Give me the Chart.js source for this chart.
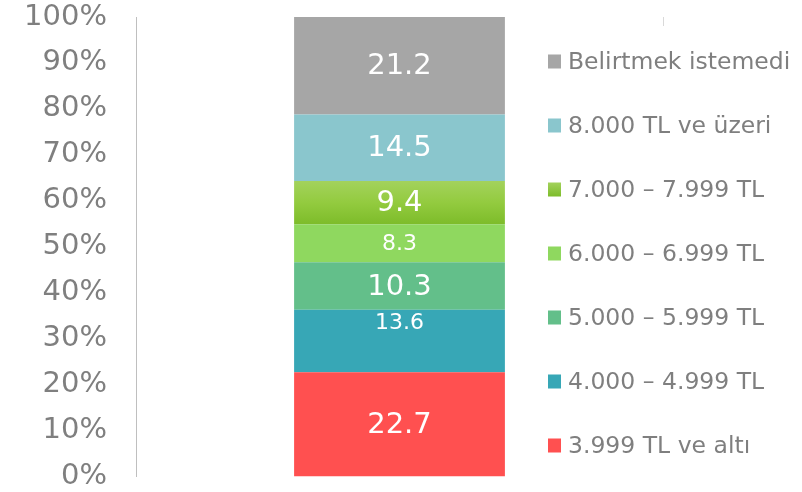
<!DOCTYPE html>
<html>
<head>
<meta charset="utf-8">
<script src="https://cdn.jsdelivr.net/npm/chart.js"></script>
<style>
  html, body { margin: 0; padding: 0; background: #fff; }
  #wrap { width: 802px; height: 492px; position: relative; }
</style>
</head>
<body>
<div id="wrap"><canvas id="c"></canvas></div>
<script>
// ---- data ----
const categories = ["Gelir"];
const seriesLabels = [
  "3.999 TL ve altı",
  "4.000 – 4.999 TL",
  "5.000 – 5.999 TL",
  "6.000 – 6.999 TL",
  "7.000 – 7.999 TL",
  "8.000 TL ve üzeri",
  "Belirtmek istemedi"
];
const seriesValues = [22.7, 13.6, 10.3, 8.3, 9.4, 14.5, 21.2];
const yTickValues = [0, 10, 20, 30, 40, 50, 60, 70, 80, 90, 100];

// ---- styles ----
const seriesColors = ["#FF5050", "#37A7B6", "#63BF8A", "#8FD85F", "#8CC63F", "#8AC6CD", "#A6A6A6"];
const labelSizes = [29, 22, 29, 22, 29, 29, 29];
const labelModes = ["center", "top", "center", "center", "center", "center", "center"];
const FONT = "'DejaVu Sans', Verdana, sans-serif";
const GREY = "#7F7F7F";

function gradientFor(index) {
  return function (ctx) {
    const chart = ctx.chart;
    const y = chart.scales && chart.scales.y;
    if (!chart.chartArea || !y) return seriesColors[index];
    let base = 0;
    for (let i = 0; i < index; i++) base += seriesValues[i];
    const top = base + seriesValues[index];
    const y0 = y.getPixelForValue(top), y1 = y.getPixelForValue(base);
    const g = chart.ctx.createLinearGradient(0, y0, 0, y1);
    g.addColorStop(0, "#A3D25C");
    g.addColorStop(0.5, "#93CB3F");
    g.addColorStop(1, "#7DBC2A");
    return g;
  };
}

const datasets = seriesValues.map((v, i) => ({
  label: seriesLabels[i],
  data: [v],
  backgroundColor: i === 4 ? gradientFor(4) : seriesColors[i],
  borderWidth: 0,
  categoryPercentage: 0.5,
  barPercentage: 0.8,
  labelSize: labelSizes[i],
  labelMode: labelModes[i]
}));

const valueLabels = {
  id: "valueLabels",
  afterDatasetsDraw(chart) {
    const ctx = chart.ctx;
    ctx.save();
    ctx.fillStyle = "#FFFFFF";
    ctx.textAlign = "center";
    ctx.textBaseline = "middle";
    chart.data.datasets.forEach((ds, i) => {
      const meta = chart.getDatasetMeta(i);
      const el = meta.data[0];
      if (!el) return;
      const topY = Math.min(el.y, el.base), botY = Math.max(el.y, el.base);
      let cy = (topY + botY) / 2;
      if (ds.labelMode === "top") cy = topY + 13;
      ctx.font = ds.labelSize + "px " + FONT;
      ctx.fillText(ds.data[0].toFixed(1), el.x, cy + 1);
    });
    ctx.restore();
  }
};

const sideLegend = {
  id: "sideLegend",
  afterDraw(chart) {
    const ctx = chart.ctx;
    const ca = chart.chartArea;
    ctx.save();
    // small tick at top-right of the plot area
    ctx.strokeStyle = "#D9D9D9";
    ctx.lineWidth = 1;
    ctx.beginPath();
    ctx.moveTo(Math.round(ca.right) + 0.5, ca.top);
    ctx.lineTo(Math.round(ca.right) + 0.5, ca.top + 9);
    ctx.stroke();

    const n = chart.data.datasets.length;
    const x0 = 548, yStart = 61.5, step = 64;
    ctx.font = "23.5px " + FONT;
    ctx.textAlign = "left";
    ctx.textBaseline = "middle";
    for (let k = 0; k < n; k++) {
      const i = n - 1 - k;
      const ds = chart.data.datasets[i];
      const cy = yStart + k * step;
      if (i === 4) {
        const g = ctx.createLinearGradient(0, cy - 7, 0, cy + 7);
        g.addColorStop(0, "#A3D25C");
        g.addColorStop(1, "#7DBC2A");
        ctx.fillStyle = g;
      } else {
        ctx.fillStyle = seriesColors[i];
      }
      ctx.fillRect(x0, cy - 7, 13, 14);
      ctx.fillStyle = GREY;
      ctx.fillText(ds.label, x0 + 20, cy + 1);
    }
    ctx.restore();
  }
};

new Chart(document.getElementById("c"), {
  type: "bar",
  data: { labels: categories, datasets },
  options: {
    responsive: true,
    maintainAspectRatio: false,
    animation: false,
    layout: { padding: { top: 17, bottom: 15.5, left: 0, right: 139 } },
    plugins: { legend: { display: false }, tooltip: { enabled: false } },
    scales: {
      x: { display: false, stacked: true },
      y: {
        stacked: true,
        min: 0,
        max: 100,
        afterFit(scale) { scale.width = 136; scale.paddingTop = 0; scale.paddingBottom = 0; },
        afterBuildTicks(scale) { scale.ticks = yTickValues.map(v => ({ value: v })); },
        grid: { display: false, drawTicks: false },
        border: { display: true, color: "#BFBFBF", width: 1 },
        ticks: {
          autoSkip: false,
          padding: 29,
          color: GREY,
          font: { family: FONT, size: 29, lineHeight: 1 },
          callback: v => v + "%"
        }
      }
    }
  },
  plugins: [valueLabels, sideLegend]
});
</script>
</body>
</html>
